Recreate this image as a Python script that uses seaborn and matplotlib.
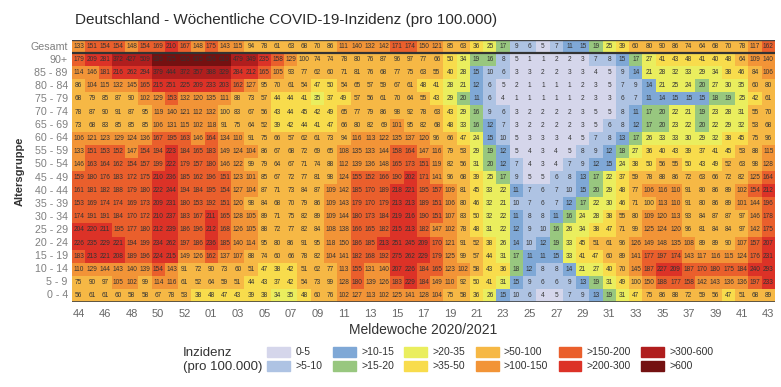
import seaborn as sns
import matplotlib.pyplot as plt
import matplotlib.patches as mpatches
from matplotlib.colors import ListedColormap, BoundaryNorm
import pandas as pd

# Meldewochen 44/2020 .. 43/2021
weeks = [f"{w:02d}" for w in range(44, 54)] + [f"{w:02d}" for w in range(1, 44)]
age_groups = ["Gesamt", "90+", "85 - 89", "80 - 84", "75 - 79", "70 - 74", "65 - 69",
              "60 - 64", "55 - 59", "50 - 54", "45 - 49", "40 - 44", "35 - 39",
              "30 - 34", "25 - 29", "20 - 24", "15 - 19", "10 - 14", "5 - 9", "0 - 4"]

gesamt = [133, 151, 154, 154, 148, 154, 169, 210, 167, 148, 175, 143, 115, 94, 78, 61, 63, 68, 70, 86, 111, 140, 132, 142, 171, 174, 150, 121, 85, 63, 36, 25, 17, 9, 6, 5, 7, 11, 15, 19, 25, 39, 60, 80, 90, 86, 74, 64, 68, 70, 78, 117, 162]
a90 = [179, 209, 281, 372, 427, 509, 636, 725, 636, 605, 656, 610, 479, 349, 235, 158, 129, 100, 74, 74, 78, 80, 76, 87, 96, 97, 77, 66, 50, 34, 19, 16, 8, 5, 1, 1, 2, 2, 3, 7, 8, 15, 17, 27, 41, 43, 48, 41, 40, 48, 64, 109, 140]
a85 = [114, 146, 181, 216, 262, 294, 379, 444, 372, 357, 388, 329, 284, 212, 165, 105, 93, 77, 62, 60, 71, 81, 76, 68, 77, 75, 63, 55, 40, 28, 15, 10, 6, 3, 3, 2, 2, 3, 3, 4, 5, 9, 14, 21, 28, 32, 33, 29, 34, 38, 46, 84, 106]
a80 = [86, 104, 115, 132, 145, 165, 215, 251, 225, 209, 233, 203, 162, 127, 95, 70, 61, 54, 47, 50, 54, 65, 57, 59, 67, 61, 48, 41, 28, 21, 12, 6, 5, 2, 1, 1, 1, 1, 2, 3, 5, 7, 9, 14, 21, 25, 24, 20, 27, 30, 35, 60, 80]
a75 = [68, 79, 85, 87, 90, 102, 129, 153, 132, 120, 135, 111, 88, 73, 57, 44, 44, 41, 35, 37, 49, 57, 56, 61, 70, 64, 55, 43, 29, 20, 11, 6, 4, 1, 1, 1, 1, 1, 2, 3, 3, 6, 7, 11, 14, 15, 15, 15, 18, 19, 25, 42, 61]
a70 = [78, 87, 90, 91, 87, 95, 119, 140, 121, 112, 132, 100, 83, 67, 56, 43, 44, 45, 42, 49, 65, 77, 79, 86, 98, 92, 78, 63, 43, 29, 16, 9, 6, 3, 2, 2, 2, 2, 3, 5, 5, 8, 11, 17, 20, 22, 21, 19, 23, 28, 31, 55, 70]
a65 = [73, 68, 83, 85, 85, 85, 106, 131, 115, 102, 118, 91, 75, 64, 52, 39, 42, 44, 41, 47, 66, 80, 82, 69, 101, 95, 82, 68, 48, 33, 16, 12, 7, 3, 2, 2, 2, 2, 3, 5, 6, 8, 12, 17, 20, 23, 22, 20, 22, 29, 32, 53, 68]
a60 = [106, 121, 123, 129, 124, 136, 167, 195, 163, 146, 164, 134, 110, 91, 75, 66, 57, 62, 61, 73, 94, 116, 113, 122, 135, 137, 120, 96, 66, 47, 24, 15, 10, 5, 3, 3, 3, 4, 5, 7, 8, 13, 17, 26, 33, 33, 30, 29, 32, 38, 45, 75, 96]
a55 = [133, 151, 153, 152, 147, 154, 194, 223, 184, 165, 183, 149, 124, 104, 86, 67, 68, 72, 69, 65, 108, 135, 133, 144, 158, 164, 147, 116, 79, 53, 29, 19, 12, 5, 4, 3, 4, 5, 8, 9, 12, 18, 27, 36, 40, 43, 39, 37, 41, 45, 53, 88, 115]
a50 = [146, 163, 164, 162, 154, 157, 199, 222, 179, 157, 180, 146, 122, 99, 79, 64, 67, 71, 74, 88, 112, 139, 136, 148, 165, 173, 151, 119, 82, 56, 31, 20, 12, 7, 4, 3, 4, 7, 9, 12, 15, 24, 38, 50, 56, 55, 50, 43, 49, 52, 63, 98, 128]
a45 = [159, 180, 176, 183, 172, 175, 210, 236, 185, 162, 196, 151, 123, 101, 85, 67, 72, 77, 81, 98, 124, 155, 152, 166, 190, 202, 171, 141, 96, 68, 39, 25, 17, 9, 5, 5, 6, 8, 13, 17, 22, 37, 59, 78, 88, 86, 72, 63, 66, 72, 82, 125, 164]
a40 = [161, 181, 182, 188, 179, 180, 222, 244, 194, 184, 195, 154, 127, 104, 87, 71, 73, 84, 87, 109, 142, 185, 170, 189, 218, 221, 195, 157, 109, 81, 45, 33, 22, 11, 7, 6, 7, 10, 15, 20, 29, 48, 77, 106, 116, 110, 91, 80, 86, 89, 102, 154, 212]
a35 = [153, 169, 174, 174, 169, 173, 209, 231, 180, 153, 192, 151, 120, 98, 84, 68, 70, 79, 86, 109, 143, 179, 170, 179, 213, 213, 189, 151, 106, 80, 46, 32, 21, 10, 7, 6, 7, 12, 17, 22, 30, 46, 71, 100, 113, 110, 91, 80, 86, 89, 101, 144, 196]
a30 = [174, 191, 191, 184, 170, 172, 210, 237, 183, 167, 211, 165, 128, 105, 89, 71, 75, 82, 89, 109, 144, 180, 173, 184, 219, 216, 190, 151, 107, 83, 50, 32, 22, 11, 8, 8, 11, 16, 24, 28, 38, 55, 80, 109, 120, 113, 93, 84, 87, 87, 97, 146, 178]
a25 = [204, 220, 211, 195, 177, 180, 212, 239, 186, 196, 212, 168, 126, 105, 88, 72, 77, 82, 84, 108, 138, 166, 165, 182, 215, 213, 182, 147, 102, 78, 48, 31, 22, 12, 9, 10, 16, 26, 34, 38, 47, 71, 99, 125, 124, 120, 96, 81, 84, 84, 97, 142, 175]
a20 = [226, 235, 229, 221, 194, 199, 234, 262, 197, 186, 236, 185, 140, 114, 95, 80, 86, 91, 95, 118, 150, 186, 185, 213, 251, 245, 209, 170, 121, 91, 52, 38, 26, 14, 10, 12, 19, 33, 45, 51, 61, 96, 126, 149, 148, 135, 108, 89, 89, 90, 107, 157, 207]
a15 = [183, 213, 221, 208, 189, 196, 224, 215, 149, 126, 162, 137, 107, 88, 74, 60, 66, 78, 82, 104, 141, 182, 168, 192, 275, 262, 229, 179, 125, 99, 57, 44, 31, 17, 11, 11, 15, 33, 41, 47, 60, 89, 141, 177, 197, 174, 143, 117, 116, 115, 124, 176, 231]
a10 = [110, 129, 144, 143, 140, 139, 154, 143, 91, 72, 90, 73, 60, 51, 47, 38, 42, 51, 62, 77, 113, 155, 131, 140, 207, 226, 184, 165, 123, 102, 58, 43, 36, 18, 12, 8, 8, 14, 21, 27, 40, 70, 145, 187, 227, 209, 187, 170, 180, 175, 184, 240, 293]
a05 = [75, 90, 97, 105, 102, 99, 114, 116, 61, 52, 64, 59, 51, 44, 43, 37, 42, 54, 73, 99, 128, 180, 139, 126, 183, 229, 184, 149, 110, 92, 50, 41, 31, 15, 9, 6, 6, 9, 13, 19, 31, 49, 100, 150, 188, 177, 158, 142, 143, 136, 136, 197, 233]
a00 = [56, 61, 61, 60, 58, 58, 67, 78, 53, 38, 48, 47, 43, 39, 38, 34, 35, 48, 60, 76, 102, 127, 113, 102, 125, 141, 128, 104, 75, 58, 36, 26, 15, 10, 6, 4, 5, 7, 9, 13, 19, 31, 47, 75, 86, 88, 72, 59, 56, 47, 51, 68, 89]

rows = [gesamt, a90, a85, a80, a75, a70, a65, a60, a55, a50, a45, a40, a35,
        a30, a25, a20, a15, a10, a05, a00]
df = pd.DataFrame(rows, index=age_groups, columns=weeks)

# Klassen der Inzidenz
bin_labels = ["0-5", ">5-10", ">10-15", ">15-20", ">20-35", ">35-50",
              ">50-100", ">100-150", ">150-200", ">200-300", ">300-600", ">600"]
bounds = [0, 5.5, 10.5, 15.5, 20.5, 35.5, 50.5, 100.5, 150.5, 200.5, 300.5, 600.5, 100000]
colors = ["#d5d6eb", "#aec3e3", "#7fa8d6", "#98c77f", "#eaee5e", "#f8dc4c",
          "#f6b845", "#f29437", "#ea5f2c", "#dc3227", "#b01e1e", "#741111"]
cmap = ListedColormap(colors)
norm = BoundaryNorm(bounds, cmap.N)

sns.set_theme(style="white")
plt.rcParams["font.family"] = ["Liberation Sans", "DejaVu Sans"]

fig = plt.figure(figsize=(7.81, 3.87), dpi=100)
ax = fig.add_axes([72 / 781, 1 - 302 / 387, (775 - 72) / 781, (302 - 40) / 387])

sns.heatmap(df, cmap=cmap, norm=norm, annot=True, fmt="d", cbar=False,
            annot_kws={"size": 4.7, "color": "#333333"}, ax=ax)

ax.axhline(0, color="#444444", lw=1)
ax.axhline(1, color="#333333", lw=1.6)
ax.axhline(len(age_groups), color="#444444", lw=1.2)

ax.set_xticks([i + 0.5 for i in range(0, len(weeks), 2)])
ax.set_xticklabels(weeks[::2], rotation=0, fontsize=8, color="#666666")
ax.set_yticks([i + 0.5 for i in range(len(age_groups))])
ax.set_yticklabels(age_groups, rotation=0, fontsize=7.7, color="#808080")
ax.tick_params(axis="x", length=3, color="#888888", pad=2)
ax.tick_params(axis="y", length=0, pad=3)
ax.set_xlabel("Meldewoche 2020/2021", fontsize=10, color="#333333", labelpad=3)
ax.set_ylabel("Altersgruppe", fontsize=8, fontweight="bold", color="#333333", labelpad=4)

fig.text(75 / 781, 1 - 20 / 387, "Deutschland - Wöchentliche COVID-19-Inzidenz (pro 100.000)",
         fontsize=11, color="#2b2b2b", va="center", ha="left")

# Legende
handles = [mpatches.Patch(color=c, label=l) for c, l in zip(colors, bin_labels)]
fig.text(183 / 781, 1 - 360 / 387, "Inzidenz\n(pro 100.000)", fontsize=9.5,
         color="#333333", va="center", ha="left", linespacing=1.3)
fig.legend(handles=handles, ncol=6, loc="center left",
           bbox_to_anchor=(258 / 781, 1 - 359 / 387), frameon=False,
           fontsize=7.5, handlelength=2.2, handleheight=1.1, columnspacing=1.0,
           labelspacing=0.35, handletextpad=0.5, labelcolor="#333333")

fig.savefig("out.png", dpi=100)
